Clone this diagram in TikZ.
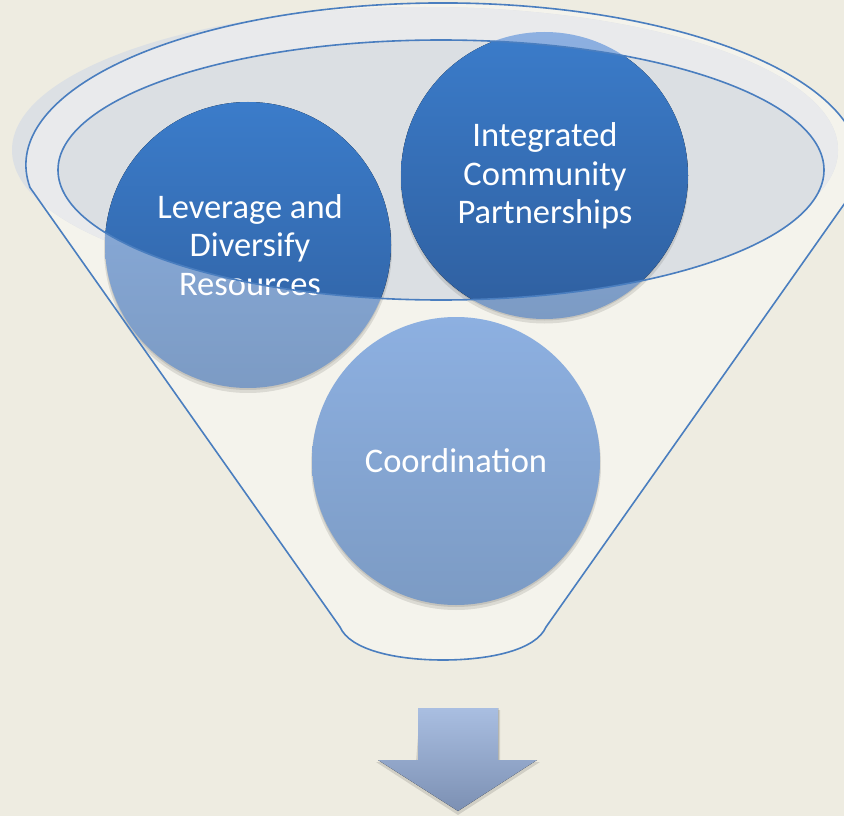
\documentclass[tikz,border=0pt]{standalone}
\usepackage{fontspec}
\setmainfont{Carlito}
\begin{document}
\begin{tikzpicture}[x=1pt,y=-1pt,
  every node/.style={inner sep=0pt, outer sep=0pt},
  rimline/.style={draw=linec, line width=1.6pt},
  lightball/.style={top color=lighttop, bottom color=lightbot},
  darkball/.style={top color=darktop, bottom color=darkbot},
  balltext/.style={text=white, align=center, font=\fontsize{34.5}{38.5}\selectfont},
  ballshadow/.style={fill=black, opacity=0.10}]
\definecolor{bgc}{HTML}{EEECE1}
\definecolor{cream}{HTML}{F4F3EC}
\definecolor{shadec}{HTML}{DCE0E4}
\definecolor{ringc}{HTML}{E9EAEC}
\definecolor{innerc}{HTML}{DBDFE3}
\definecolor{linec}{HTML}{4A7EBF}
\definecolor{darktop}{HTML}{3B7CCA}
\definecolor{darkbot}{HTML}{2F5F9F}
\definecolor{lighttop}{HTML}{8DB0E1}
\definecolor{lightbot}{HTML}{7C9BC4}
\definecolor{arrtop}{HTML}{A9BEE1}
\definecolor{arrbot}{HTML}{7C90B3}
\useasboundingbox (0,0) rectangle (844,816);
\fill[bgc] (0,0) rectangle (844,816);
% coordinates
\coordinate (oc) at (443,165);
\coordinate (ic) at (441,170);
\coordinate (sc) at (425,150);
\coordinate (bl) at (340,627);
\coordinate (br) at (546,627);
\coordinate (bb) at (443,660);
% funnel body fill
\fill[cream] (30,187.5) arc[start angle=172, end angle=368, x radius=417, y radius=162]
  -- (br) .. controls (536,650) and (490,660) .. (bb) .. controls (396,660) and (350,650) .. (bl) -- cycle;
% shade ellipse
\fill[shadec] (sc) ellipse[x radius=413, y radius=143];
% ring fill within shade
\begin{scope}
  \clip (sc) ellipse[x radius=413, y radius=143];
  \fill[ringc] (oc) ellipse[x radius=417, y radius=162];
\end{scope}
\fill[innerc] (ic) ellipse[x radius=383, y radius=130];
% circle shadows
\fill[ballshadow] (248,249) circle (144);
\fill[ballshadow] (544.5,179.5) circle (144);
\fill[ballshadow] (456,465) circle (145);
\fill[ballshadow] (248,247) circle (143);
\fill[ballshadow] (544.5,177.5) circle (143);
\fill[ballshadow] (456,463) circle (144);
% circles (light)
\node[circle, minimum size=286pt, lightball] (lev) at (248,245) {};
\node[circle, minimum size=287pt, lightball] (icp) at (544.5,175.5) {};
\node[circle, minimum size=288pt, lightball] (coo) at (456,461) {};
% dark parts inside inner ellipse
\begin{scope}
  \clip (ic) ellipse[x radius=383, y radius=130];
  \fill[darkball] (lev.center) circle (143);
  \fill[darkball] (icp.center) circle (143.5);
\end{scope}
% texts
\node[balltext] (levt) at (250,245) {Leverage and\\Diversify\\Resources};
\node[balltext] (icpt) at (545,176) {Integrated\\Community\\Partnerships};
\node[balltext] (coot) at (456,461) {Coordination};
% lines
\draw[rimline] (ic) ellipse[x radius=383, y radius=130];
\draw[rimline, line join=round] (30,187.5) arc[start angle=172, end angle=368, x radius=417, y radius=162]
  -- (br) .. controls (536,650) and (490,660) .. (bb) .. controls (396,660) and (350,650) .. (bl) -- cycle;
% arrow
\fill[black, opacity=0.12] (420,710) -- (500,710) -- (500,762) -- (540,762) -- (458,815) -- (376,762) -- (416,762) -- cycle;
\fill[top color=arrtop, bottom color=arrbot] (418,708) -- (498,708) -- (498,760) -- (537,760) -- (458,811) -- (378,760) -- (418,760) -- cycle;
\end{tikzpicture}
\end{document}
